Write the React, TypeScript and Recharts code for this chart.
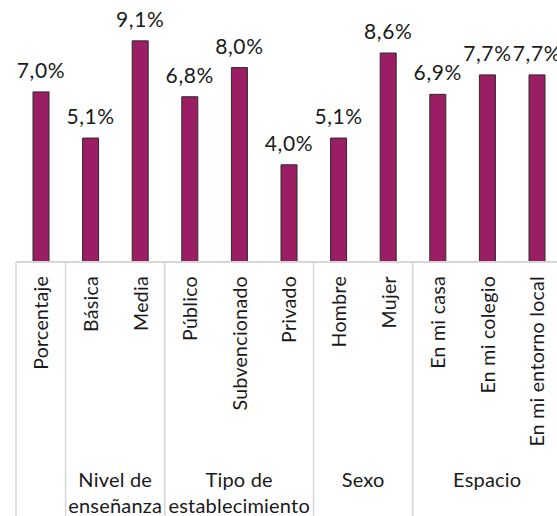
import { BarChart, Bar, XAxis, YAxis, LabelList } from 'recharts';

const categories = [
  'Porcentaje', 'Básica', 'Media', 'Público', 'Subvencionado', 'Privado',
  'Hombre', 'Mujer', 'En mi casa', 'En mi colegio', 'En mi entorno local',
];
const values = [7.0, 5.1, 9.1, 6.8, 8.0, 4.0, 5.1, 8.6, 6.9, 7.7, 7.7];

// group label lines, the index where each group starts and its length
const groupLabels = [[], ['Nivel de', 'enseñanza'], ['Tipo de', 'establecimiento'], ['Sexo'], ['Espacio']];
const groupStarts = [0, 1, 3, 6, 8];
const groupSizes = [1, 2, 3, 2, 3];

const data = categories.map((name, i) => ({ name, value: values[i] }));

const FONT = 'Lato, "Open Sans", sans-serif';
const BAND = 545.6 / categories.length;

const Tick = (props: any) => {
  const { x, payload, index } = props;
  const half = payload && payload.offset ? payload.offset : BAND / 2;
  const left = x - half;
  const g = groupStarts.indexOf(index);
  const base = 262;
  return (
    <g>
      <text
        x={x}
        y={base + 14}
        transform={`rotate(-90 ${x} ${base + 14})`}
        textAnchor="end"
        dominantBaseline="central"
        fontSize={19.5}
        letterSpacing={0.3}
        fontFamily={FONT}
        fill="#1a1a1a"
      >
        {payload.value}
      </text>
      {g >= 0 && (
        <>
          <line x1={left} x2={left} y1={base} y2={516} stroke="#d6d6d6" strokeWidth={1.5} />
          {groupLabels[g].map((t, k) => (
            <text
              key={k}
              x={left + groupSizes[g] * half}
              y={487 + k * 26}
              textAnchor="middle"
              fontSize={20}
              letterSpacing={0.2}
              fontFamily={FONT}
              fill="#1a1a1a"
            >
              {t}
            </text>
          ))}
        </>
      )}
    </g>
  );
};

export default function App() {
  return (
    <div style={{ position: 'fixed', left: 0, top: 0, width: 557, height: 516, overflow: 'hidden', background: '#fff' }}>
      <BarChart width={590} height={516} data={data} margin={{ top: 19, right: 28.4, bottom: 0, left: 16 }}>
        <XAxis
          dataKey="name"
          interval={0}
          height={254}
          tickLine={false}
          axisLine={{ stroke: '#d6d6d6', strokeWidth: 2 }}
          tick={<Tick />}
        />
        <YAxis hide domain={[0, 10]} />
        <Bar dataKey="value" fill="#9b1d63" stroke="#2b2b2b" strokeWidth={1} barSize={16} isAnimationActive={false}>
          <LabelList
            dataKey="value"
            position="top"
            offset={14}
            formatter={(v: any) => `${Number(v).toFixed(1).replace('.', ',')}%`}
            style={{ fontSize: 21, letterSpacing: 0.6, fontFamily: FONT, fill: '#1a1a1a' }}
          />
        </Bar>
      </BarChart>
    </div>
  );
}
